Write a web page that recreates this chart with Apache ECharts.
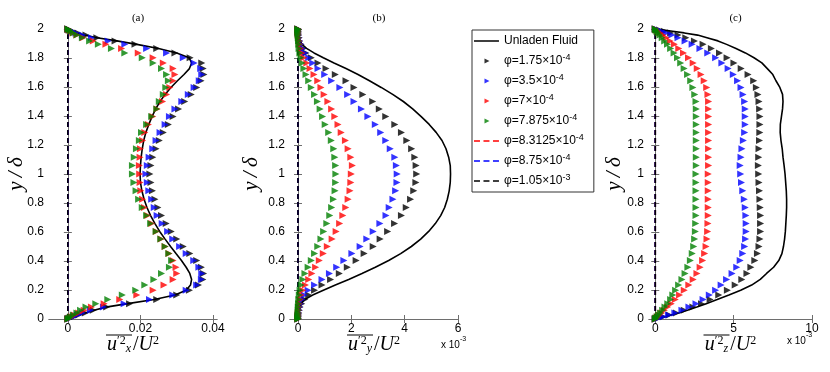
<!DOCTYPE html>
<html>
<head>
<meta charset="utf-8">
<script src="https://cdn.jsdelivr.net/npm/echarts/dist/echarts.min.js"></script>
<style>
  html, body { margin: 0; padding: 0; background: #fff; }
  #chart { width: 830px; height: 372px; }
</style>
</head>
<body>
<div id="chart"></div>
<script>
// wall-normal positions y/delta of the profile points (same for every series)
var yGrid = [0, 0.002, 0.007, 0.015, 0.027, 0.042, 0.060, 0.082, 0.106, 0.134,
  0.165, 0.198, 0.234, 0.273, 0.314, 0.357, 0.403, 0.451, 0.500, 0.551,
  0.604, 0.658, 0.713, 0.769, 0.826, 0.884, 0.942, 1.000,
  1.058, 1.116, 1.174, 1.231, 1.287, 1.342, 1.396, 1.449, 1.500, 1.549,
  1.597, 1.643, 1.686, 1.727, 1.766, 1.802, 1.835, 1.866, 1.894, 1.918,
  1.940, 1.958, 1.973, 1.985, 1.993, 1.998, 2.000];

// (a) u'x^2/U^2
var unladenA = [0, 0.0002, 0.0008, 0.0017, 0.0030, 0.0048, 0.0072, 0.0105, 0.0165, 0.0238,
  0.0295, 0.0326, 0.0338, 0.0341, 0.0336, 0.0326, 0.0313, 0.0298, 0.0283, 0.0268,
  0.0253, 0.0240, 0.0228, 0.0218, 0.0210, 0.0204, 0.0200, 0.0199,
  0.0200, 0.0202, 0.0205, 0.0209, 0.0215, 0.0223, 0.0232, 0.0242, 0.0254, 0.0268,
  0.0284, 0.0302, 0.0320, 0.0335, 0.0341, 0.0334, 0.0300, 0.0250, 0.0190, 0.0135,
  0.0080, 0.0045, 0.0025, 0.0013, 0.0006, 0.0002, 0];
var blackA = [0, 0.0002, 0.0008, 0.0017, 0.0030, 0.0048, 0.0070, 0.0107, 0.0170, 0.0245,
  0.0300, 0.0335, 0.0360, 0.0372, 0.0374, 0.0368, 0.0355, 0.0336, 0.0318, 0.0300,
  0.0285, 0.0271, 0.0258, 0.0248, 0.0240, 0.0233, 0.0229, 0.0226,
  0.0229, 0.0234, 0.0243, 0.0252, 0.0263, 0.0277, 0.0290, 0.0305, 0.0322, 0.0340,
  0.0355, 0.0367, 0.0375, 0.0373, 0.0369, 0.0337, 0.0295, 0.0245, 0.0185, 0.0130,
  0.0080, 0.0050, 0.0028, 0.0014, 0.0006, 0.0002, 0];
var blueA = [0, 0.0002, 0.0007, 0.0015, 0.0026, 0.0040, 0.0062, 0.0098, 0.0155, 0.0225,
  0.0289, 0.0326, 0.0355, 0.0368, 0.0369, 0.0361, 0.0347, 0.0326, 0.0308, 0.0289,
  0.0275, 0.0260, 0.0246, 0.0238, 0.0231, 0.0223, 0.0219, 0.0215,
  0.0219, 0.0224, 0.0234, 0.0243, 0.0254, 0.0268, 0.0280, 0.0295, 0.0314, 0.0332,
  0.0348, 0.0362, 0.0369, 0.0366, 0.0348, 0.0318, 0.0272, 0.0217, 0.0157, 0.0111,
  0.0065, 0.0040, 0.0022, 0.0011, 0.0005, 0.0001, 0];
var redA = [0, 0.0001, 0.0005, 0.0010, 0.0018, 0.0030, 0.0045, 0.0065, 0.0100, 0.0143,
  0.0190, 0.0235, 0.0265, 0.0290, 0.0300, 0.0298, 0.0290, 0.0279, 0.0268, 0.0257,
  0.0244, 0.0231, 0.0220, 0.0211, 0.0206, 0.0201, 0.0199, 0.0198,
  0.0197, 0.0199, 0.0200, 0.0206, 0.0212, 0.0222, 0.0234, 0.0246, 0.0261, 0.0272,
  0.0281, 0.0290, 0.0295, 0.0290, 0.0263, 0.0235, 0.0194, 0.0148, 0.0105, 0.0070,
  0.0042, 0.0025, 0.0014, 0.0007, 0.0003, 0.0001, 0];
var greenA = [0, 0.0001, 0.0004, 0.0008, 0.0015, 0.0025, 0.0035, 0.0050, 0.0077, 0.0110,
  0.0150, 0.0187, 0.0212, 0.0237, 0.0258, 0.0280, 0.0286, 0.0278, 0.0268, 0.0256,
  0.0243, 0.0228, 0.0217, 0.0205, 0.0195, 0.0188, 0.0182, 0.0178,
  0.0178, 0.0183, 0.0189, 0.0197, 0.0203, 0.0217, 0.0231, 0.0245, 0.0252, 0.0263,
  0.0270, 0.0277, 0.0272, 0.0258, 0.0235, 0.0205, 0.0157, 0.0120, 0.0084, 0.0060,
  0.0040, 0.0025, 0.0015, 0.0008, 0.0004, 0.0001, 0];

// (b) u'y^2/U^2, in units of 1e-3
var unladenB = [0, 0, 0, 0.01, 0.02, 0.03, 0.05, 0.08, 0.12, 0.25,
  0.55, 0.95, 1.40, 1.90, 2.40, 2.90, 3.40, 3.85, 4.25, 4.60,
  4.90, 5.15, 5.35, 5.50, 5.60, 5.67, 5.71, 5.72,
  5.71, 5.65, 5.55, 5.40, 5.18, 4.92, 4.62, 4.30, 3.95, 3.55,
  3.12, 2.68, 2.25, 1.80, 1.35, 0.95, 0.60, 0.32, 0.15, 0.08,
  0.05, 0.03, 0.02, 0.01, 0, 0, 0];
var blackB = [0, 0, 0, 0.01, 0.02, 0.03, 0.05, 0.08, 0.14, 0.25,
  0.40, 0.62, 0.90, 1.22, 1.55, 1.85, 2.18, 2.48, 2.82, 3.08,
  3.36, 3.62, 3.88, 4.06, 4.22, 4.34, 4.42, 4.45,
  4.43, 4.38, 4.26, 4.08, 3.88, 3.63, 3.29, 3.05, 2.80, 2.43,
  2.10, 1.80, 1.40, 1.05, 0.75, 0.50, 0.30, 0.20, 0.12, 0.06,
  0.04, 0.02, 0.01, 0.005, 0, 0, 0];
var blueB = [0, 0, 0, 0.005, 0.01, 0.02, 0.04, 0.06, 0.09, 0.15,
  0.24, 0.38, 0.62, 0.90, 1.18, 1.45, 1.72, 2.02, 2.33, 2.58,
  2.82, 3.07, 3.30, 3.42, 3.56, 3.66, 3.71, 3.72,
  3.69, 3.63, 3.46, 3.29, 3.10, 2.90, 2.62, 2.38, 2.10, 1.86,
  1.57, 1.26, 1.00, 0.75, 0.55, 0.40, 0.26, 0.17, 0.10, 0.06,
  0.04, 0.02, 0.01, 0.005, 0, 0, 0];
var redB = [0, 0, 0, 0, 0.005, 0.01, 0.02, 0.03, 0.05, 0.08,
  0.12, 0.18, 0.28, 0.40, 0.52, 0.66, 0.80, 0.95, 1.10, 1.28,
  1.43, 1.56, 1.68, 1.79, 1.88, 1.95, 1.98, 2.00,
  2.04, 1.98, 1.88, 1.78, 1.62, 1.50, 1.38, 1.26, 1.12, 0.98,
  0.86, 0.74, 0.60, 0.45, 0.33, 0.22, 0.15, 0.10, 0.06, 0.04,
  0.02, 0.01, 0.005, 0, 0, 0, 0];
var greenB = [0, 0, 0, 0, 0, 0.005, 0.01, 0.01, 0.02, 0.03,
  0.05, 0.08, 0.12, 0.18, 0.26, 0.38, 0.50, 0.62, 0.74, 0.86,
  0.96, 1.08, 1.19, 1.26, 1.33, 1.39, 1.41, 1.42,
  1.41, 1.38, 1.34, 1.25, 1.15, 1.02, 0.92, 0.83, 0.73, 0.62,
  0.50, 0.40, 0.30, 0.22, 0.16, 0.11, 0.07, 0.04, 0.03, 0.02,
  0.01, 0.005, 0, 0, 0, 0, 0];

// (c) u'z^2/U^2, in units of 1e-3
var unladenC = [0, 0.07, 0.28, 0.60, 1.00, 1.50, 2.05, 2.65, 3.25, 3.95,
  4.70, 5.45, 6.15, 6.70, 7.10, 7.55, 7.88, 8.08, 8.18, 8.25,
  8.30, 8.33, 8.36, 8.38, 8.38, 8.36, 8.32, 8.28,
  8.22, 8.15, 8.10, 8.02, 7.97, 7.98, 8.05, 8.12, 8.15, 8.12,
  7.95, 7.70, 7.50, 7.15, 6.80, 6.30, 5.75, 5.15, 4.55, 4.00,
  3.30, 2.70, 1.85, 1.10, 0.55, 0.15, 0];
var blackC = [0, 0.06, 0.24, 0.52, 0.90, 1.35, 1.85, 2.40, 2.95, 3.50,
  4.05, 4.60, 5.10, 5.52, 5.85, 6.10, 6.35, 6.52, 6.62, 6.68,
  6.72, 6.72, 6.72, 6.70, 6.68, 6.65, 6.62, 6.60,
  6.58, 6.60, 6.62, 6.65, 6.67, 6.68, 6.68, 6.66, 6.62, 6.55,
  6.45, 6.28, 5.92, 5.48, 5.02, 4.58, 4.10, 3.58, 3.05, 2.50,
  1.95, 1.45, 0.98, 0.58, 0.28, 0.07, 0];
var blueC = [0, 0.06, 0.22, 0.50, 0.85, 1.25, 1.70, 2.15, 2.60, 3.05,
  3.45, 3.85, 4.20, 4.55, 4.90, 5.20, 5.42, 5.58, 5.70, 5.76,
  5.80, 5.80, 5.78, 5.74, 5.68, 5.58, 5.50, 5.45,
  5.42, 5.47, 5.53, 5.62, 5.70, 5.74, 5.74, 5.74, 5.70, 5.60,
  5.47, 5.25, 4.98, 4.65, 4.25, 3.85, 3.35, 2.85, 2.35, 1.90,
  1.45, 1.05, 0.70, 0.40, 0.18, 0.05, 0];
var redC = [0, 0.02, 0.07, 0.15, 0.26, 0.41, 0.58, 0.79, 1.02, 1.28,
  1.55, 1.85, 2.14, 2.42, 2.66, 2.86, 3.02, 3.15, 3.24, 3.30,
  3.34, 3.36, 3.38, 3.38, 3.38, 3.38, 3.38, 3.38,
  3.40, 3.40, 3.40, 3.40, 3.40, 3.40, 3.40, 3.40, 3.40, 3.36,
  3.28, 3.12, 2.92, 2.68, 2.42, 2.12, 1.80, 1.50, 1.22, 0.95,
  0.70, 0.48, 0.30, 0.16, 0.07, 0.02, 0];
var greenC = [0, 0.01, 0.05, 0.12, 0.21, 0.33, 0.47, 0.62, 0.80, 0.98,
  1.12, 1.30, 1.49, 1.70, 1.90, 2.08, 2.24, 2.36, 2.45, 2.51,
  2.56, 2.58, 2.60, 2.60, 2.60, 2.60, 2.60, 2.60,
  2.62, 2.62, 2.62, 2.62, 2.62, 2.62, 2.62, 2.62, 2.60, 2.52,
  2.40, 2.26, 2.06, 1.84, 1.62, 1.42, 1.20, 0.98, 0.78, 0.60,
  0.44, 0.30, 0.19, 0.10, 0.04, 0.01, 0];

// the three heaviest loadings collapse onto x = 0 in every panel
var dashX = [0, 0];
var dashY = [0, 2];

var names = ['Unladen Fluid', 'φ=1.75×10^-4', 'φ=3.5×10^-4', 'φ=7×10^-4',
  'φ=7.875×10^-4', 'φ=8.3125×10^-4', 'φ=8.75×10^-4', 'φ=1.05×10^-3'];
var xTicksA = [0, 0.02, 0.04];
var xTicksB = [0, 2, 4, 6];
var xTicksC = [0, 5, 10];

var markerColors = ['#000000', '#0000ff', '#ff0000', '#008000'];
var dashColors = ['#ff0000', '#0000ff', '#000000'];

var myChart = echarts.init(document.getElementById('chart'));

function pts(xs) {
  return xs.map(function (x, i) { return [x, yGrid[i]]; });
}

var sansFont = 'Liberation Sans';
var serifFont = 'Liberation Serif';
var frameColor = '#6e6e6e';
var boxLine = { lineStyle: { color: frameColor, width: 1 } };

// legend icons: 25x8 boxes (two invisible corner dots fix the box size)
var iconBox = 'M0,0h0.01v0.01h-0.01zM25,8h0.01v0.01h-0.01z';
var solidIcon = 'path://' + iconBox + 'M0,3.3h25v1.4h-25z';
var dashIcon = 'path://' + iconBox + 'M0,3.2h6v1.6h-6zM9.5,3.2h6v1.6h-6zM19,3.2h6v1.6h-6z';
var triIcon = 'path://' + iconBox + 'M10.5,1.5L15.5,4L10.5,6.5z';

var panels = [
  { left: 49, width: 168, min: -0.0052, max: 0.0411, ticks: xTicksA, sub: 'x', yGap: 22,
    unladen: unladenA, markers: [blackA, blueA, redA, greenA], title: '(a)' },
  { left: 290, width: 168, min: -0.3, max: 6, ticks: xTicksB, sub: 'y', yGap: 28,
    unladen: unladenB, markers: [blackB, blueB, redB, greenB], title: '(b)' },
  { left: 649, width: 163, min: -0.4, max: 10, ticks: xTicksC, sub: 'z', yGap: 24,
    unladen: unladenC, markers: [blackC, blueC, redC, greenC], title: '(c)' }
];

var grids = [], xAxes = [], yAxes = [], series = [], titles = [], overbars = [];

var nameRich = {
  u: { fontFamily: serifFont, fontStyle: 'italic', fontSize: 20, lineHeight: 20, verticalAlign: 'middle', color: '#000' },
  n: { fontFamily: serifFont, fontSize: 20, lineHeight: 20, verticalAlign: 'middle', color: '#000', padding: [0, 0, 0, 2] },
  up: { fontFamily: serifFont, fontSize: 12, lineHeight: 10, verticalAlign: 'top', color: '#000' },
  dn: { fontFamily: serifFont, fontStyle: 'italic', fontSize: 12, lineHeight: 10, verticalAlign: 'bottom', color: '#000' }
};

panels.forEach(function (p, k) {
  var mid = p.left + p.width / 2;
  grids.push({ left: p.left, top: 29, width: p.width, height: 290 });
  titles.push({
    text: p.title, left: mid, top: 8, textAlign: 'center',
    textStyle: { fontFamily: serifFont, fontSize: 11, fontWeight: 'normal', color: '#000' }
  });
  overbars.push({
    type: 'line', shape: { x1: mid - 27, y1: 335, x2: mid - 1, y2: 335 },
    style: { stroke: '#000', lineWidth: 1 }
  });
  xAxes.push({
    type: 'value', gridIndex: k, position: 'bottom', min: p.min, max: p.max,
    splitLine: { show: false }, axisLine: boxLine,
    axisTick: { inside: true, length: 4, customValues: p.ticks, lineStyle: { color: frameColor } },
    axisLabel: { customValues: p.ticks, color: '#000', fontFamily: sansFont, fontSize: 12, margin: 4 },
    name: '{u|u}{up|′2}{dn|' + p.sub + '}{n|/}{u|U}{up|2}',
    nameLocation: 'middle', nameGap: 16, nameMoveOverlap: false,
    nameTextStyle: { rich: nameRich }
  });
  xAxes.push({
    type: 'value', gridIndex: k, position: 'top', min: p.min, max: p.max,
    splitLine: { show: false }, axisLine: boxLine,
    axisTick: { inside: true, length: 4, customValues: p.ticks, lineStyle: { color: frameColor } },
    axisLabel: { show: false }
  });
  yAxes.push({
    type: 'value', gridIndex: k, position: 'left', min: 0, max: 2, interval: 0.2,
    splitLine: { show: false }, axisLine: boxLine,
    axisTick: { inside: true, length: 4, lineStyle: { color: frameColor } },
    axisLabel: { color: '#000', fontFamily: sansFont, fontSize: 12, margin: 5 },
    name: 'y\u2009/\u2009δ', nameLocation: 'middle', nameGap: p.yGap, nameMoveOverlap: false,
    nameTextStyle: { fontFamily: serifFont, fontStyle: 'italic', fontSize: 21, color: '#000' }
  });
  yAxes.push({
    type: 'value', gridIndex: k, position: 'right', min: 0, max: 2, interval: 0.2,
    splitLine: { show: false }, axisLine: boxLine,
    axisTick: { inside: true, length: 4, lineStyle: { color: frameColor } },
    axisLabel: { show: false }
  });

  var xi = 2 * k, yi = 2 * k;
  series.push({
    name: names[0], type: 'line', xAxisIndex: xi, yAxisIndex: yi,
    data: pts(p.unladen), symbol: 'none', z: 2,
    lineStyle: { color: '#000', width: 1.6 }, itemStyle: { color: '#000' }
  });
  p.markers.forEach(function (m, j) {
    series.push({
      name: names[j + 1], type: 'scatter', xAxisIndex: xi, yAxisIndex: yi,
      data: pts(m), symbol: 'triangle', symbolRotate: -90, symbolSize: 7, z: 3 + j,
      itemStyle: { color: markerColors[j] }
    });
  });
  dashColors.forEach(function (c, j) {
    series.push({
      name: names[5 + j], type: 'line', xAxisIndex: xi, yAxisIndex: yi,
      data: dashX.map(function (x, i) { return [x, dashY[i]]; }),
      symbol: 'none', z: 1,
      lineStyle: { color: c, width: 1.6, type: [5, 3] }, itemStyle: { color: c }
    });
  });
});

var legendData = names.map(function (n, i) {
  return { name: n, icon: i === 0 ? solidIcon : (i < 5 ? triIcon : dashIcon) };
});

var supRich = {
  a: { fontFamily: sansFont, fontSize: 10, lineHeight: 14, verticalAlign: 'bottom', fill: '#000' },
  b: { fontFamily: sansFont, fontSize: 7, lineHeight: 8, verticalAlign: 'top', fill: '#000' }
};

var option = {
  animation: false,
  title: titles,
  grid: grids,
  xAxis: xAxes,
  yAxis: yAxes,
  legend: {
    data: legendData, orient: 'vertical', left: 472, top: 30,
    itemWidth: 25, itemHeight: 8, itemGap: 4,
    padding: [3, 10, 3, 2],
    borderColor: '#333', borderWidth: 1, backgroundColor: '#fff',
    textStyle: {
      fontFamily: sansFont, fontSize: 12, lineHeight: 16, color: '#000',
      rich: { s: { fontFamily: sansFont, fontSize: 9, lineHeight: 9, verticalAlign: 'top', color: '#000' } }
    },
    formatter: function (name) {
      return name.indexOf('^') >= 0 ? name.replace(/\^(.+)$/, '{s|$1}') : name;
    }
  },
  graphic: overbars.concat([
    { type: 'text', left: 441, top: 336, style: { text: '{a|x 10}{b|-3}', rich: supRich } },
    { type: 'text', left: 787, top: 332, style: { text: '{a|x 10}{b|-3}', rich: supRich } }
  ]),
  series: series
};

myChart.setOption(option);
</script>
</body>
</html>
